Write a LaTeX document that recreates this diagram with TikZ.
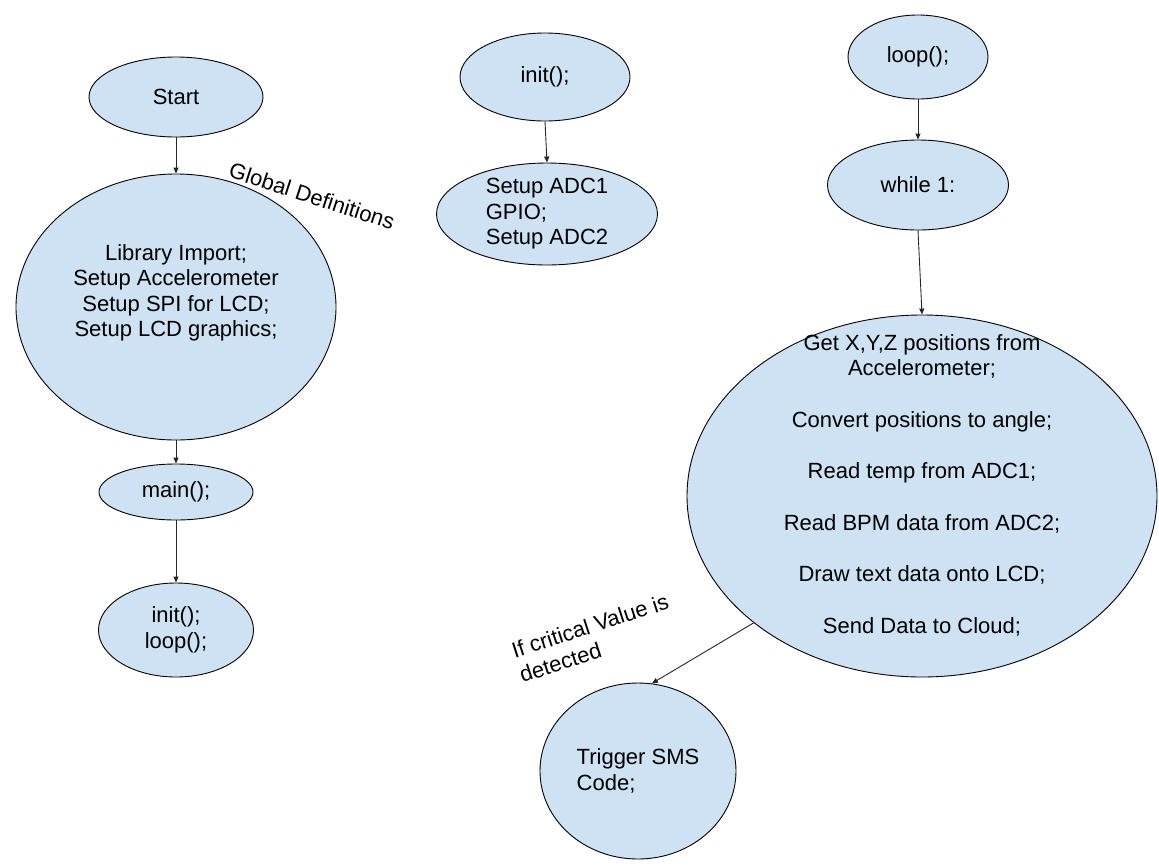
\documentclass[tikz,border=0pt]{standalone}
\usepackage{fontspec}
\setmainfont{Liberation Sans}
\usetikzlibrary{shapes.geometric, arrows.meta, positioning, calc}
\definecolor{bubble}{HTML}{CFE2F3}

\begin{document}
\begin{tikzpicture}[x=1pt, y=-1pt,
  blob/.style={ellipse, draw=black, line width=0.9pt, fill=bubble, inner sep=0pt},
  txt/.style={font=\fontsize{22}{25.5}\selectfont, align=center},
  flow/.style={draw=black!85, line width=0.9pt, -{Triangle[length=6pt,width=5pt]}}]
\useasboundingbox (0,0) rectangle (1159,865);

% main program
\node[blob, txt, minimum width=174pt, minimum height=80pt] (start) at (176,97) {Start};
\node[blob, minimum width=320pt, minimum height=266pt] (lib) at (176,307) {};
\node[txt] (libtext) at (176,293) {Library Import;\\Setup Accelerometer\\Setup SPI for LCD;\\Setup LCD graphics;};
\node[blob, txt, minimum width=154pt, minimum height=56pt] (main) at (176,492) {main();};
\node[blob, txt, minimum width=155pt, minimum height=94pt] (calls) at (176,630) {init();\\loop();};
\node[txt, rotate=-18] (globdef) at (312,196) {Global Definitions};

\draw[flow] (start.south) -- (lib.north);
\draw[flow] (lib.south) -- (main.north);
\draw[flow] (main.south) -- (calls.north);

% init
\node[blob, txt, minimum width=170pt, minimum height=88pt] (init) at (545,77) {init();};
\node[blob, txt, align=left, minimum width=221pt, minimum height=102pt] (adc) at (547,214) {Setup ADC1\\GPIO;\\Setup ADC2};
\draw[flow] (init.south) -- (adc.north);

% loop
\node[blob, txt, minimum width=140pt, minimum height=84pt] (loop) at (918,57) {loop();};
\node[blob, txt, minimum width=181pt, minimum height=90pt] (while) at (918,185) {while 1:};
\node[blob, minimum width=470pt, minimum height=362pt] (body) at (922,496) {};
\node[txt] (bodytext) at (922,485) {Get X,Y,Z positions from\\Accelerometer;\\[26pt]
  Convert positions to angle;\\[26pt]
  Read temp from ADC1;\\[26pt]
  Read BPM data from ADC2;\\[26pt]
  Draw text data onto LCD;\\[26pt]
  Send Data to Cloud;};
\node[blob, txt, align=left, minimum width=196pt, minimum height=176pt] (sms) at (638,771) {Trigger SMS\\Code;};
\node[txt, align=left, rotate=18] (crit) at (594,638) {If critical Value is\\detected};

\draw[flow] (loop.south) -- (while.north);
\draw[flow] (while.south) -- (body.north);
\draw[flow] (body.217) -- (sms.81);
\end{tikzpicture}
\end{document}
